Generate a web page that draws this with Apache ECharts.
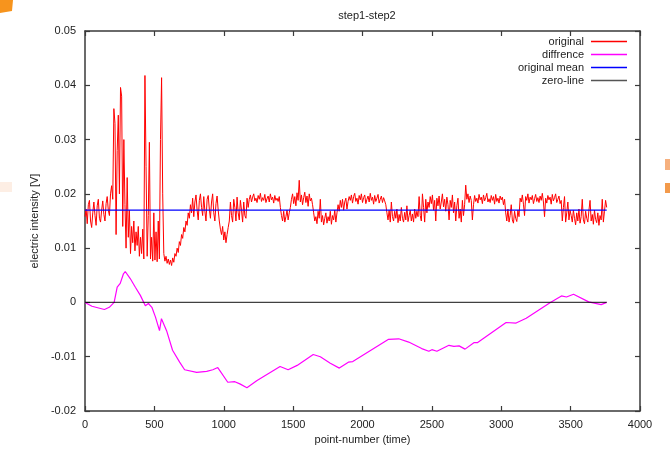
<!DOCTYPE html>
<html>
<head>
<meta charset="utf-8">
<script src="https://cdn.jsdelivr.net/npm/echarts@6/dist/echarts.min.js"></script>
<style>html,body{margin:0;padding:0;background:#fff;}#c{width:670px;height:451px;}</style>
</head>
<body>
<div id="c"></div>
<script>
// ---- data ----
const titleText = 'step1-step2';
const seriesNames = ['original', 'diffrence', 'original mean', 'zero-line'];
const xTicks = [0, 500, 1000, 1500, 2000, 2500, 3000, 3500, 4000];
const yTicks = [-0.02, -0.01, 0, 0.01, 0.02, 0.03, 0.04, 0.05];

// "original": one reading every 8 point-numbers
const origStep = 8;
const origValues = [
  0.0158,0.0172,0.0145,0.0180,0.0188,0.0150,0.0138,0.0165,0.0185,0.0160,0.0142,0.0178,0.0190,0.0155,0.0148,0.0170,0.0187,0.0162,0.0150,0.0182,0.0195,0.0170,0.0160,0.0200,0.0215,
  0.0190,0.0357,0.0330,0.0125,0.0280,0.0345,0.0200,0.0396,0.0380,0.0140,0.0300,0.0180,0.0100,0.0230,0.0120,0.0170,0.0090,0.0140,0.0110,0.0150,
  0.0095,0.0130,0.0105,0.0140,0.0085,0.0120,0.0090,0.0135,0.0080,0.0418,0.0250,0.0085,0.0160,0.0295,0.0080,0.0120,0.0076,0.0165,0.0078,0.0130,
  0.0075,0.0150,0.0080,0.0300,0.0414,0.0200,0.0090,0.0076,0.0085,0.0072,0.0080,0.0070,0.0078,
  0.0068,0.0082,0.0074,0.0090,0.0085,0.0100,0.0092,0.0112,0.0105,0.0125,0.0118,0.0138,0.0130,0.0150,0.0142,0.0165,0.0155,0.0180,
  0.0165,0.0192,0.0158,0.0185,0.0198,0.0170,0.0152,0.0188,0.0200,0.0175,0.0160,0.0195,0.0168,0.0150,0.0190,0.0197,0.0172,0.0155,0.0185,0.0200,0.0165,0.0150,0.0182,0.0196,0.0170,
  0.0150,0.0135,0.0125,0.0140,0.0115,0.0130,0.0110,0.0125,0.0138,0.0150,
  0.0185,0.0160,0.0148,0.0190,0.0175,0.0150,0.0194,0.0165,0.0152,0.0188,0.0170,0.0148,0.0185,0.0160,0.0155,0.0192,0.0175,
  0.0190,0.0198,0.0185,0.0194,0.0200,0.0187,0.0192,0.0184,0.0197,0.0190,0.0201,0.0186,0.0193,0.0188,0.0199,0.0184,0.0191,0.0196,0.0185,0.0200,0.0189,0.0194,0.0183,0.0197,0.0188,0.0192,0.0186,0.0195,
  0.0175,0.0160,0.0150,0.0168,0.0148,0.0158,0.0170,0.0152,0.0165,0.0175,
  0.0190,0.0200,0.0182,0.0195,0.0178,0.0202,0.0188,0.0225,0.0185,0.0198,0.0180,0.0193,0.0203,0.0184,0.0196,0.0177,0.0200,0.0187,0.0192,0.0180,
  0.0165,0.0150,0.0158,0.0145,0.0168,0.0155,0.0190,0.0148,0.0160,0.0143,0.0155,0.0165,0.0146,0.0158,0.0150,0.0168,0.0144,0.0160,0.0152,0.0170,0.0148,0.0165,
  0.0180,0.0168,0.0188,0.0175,0.0190,0.0170,0.0185,0.0192,0.0172,0.0186,0.0195,
  0.0188,0.0198,0.0183,0.0195,0.0201,0.0186,0.0192,0.0181,0.0197,0.0189,0.0200,0.0184,0.0193,0.0198,0.0182,0.0190,0.0196,0.0185,0.0201,0.0188,0.0194,0.0181,0.0197,0.0186,0.0192,0.0199,0.0183,0.0190,0.0196,0.0184,0.0193,0.0187,0.0180,
  0.0165,0.0152,0.0170,0.0148,0.0185,0.0158,0.0150,0.0168,0.0155,0.0172,0.0147,0.0162,0.0150,0.0175,0.0155,0.0148,0.0166,0.0152,0.0178,0.0149,0.0160,0.0170,0.0150,0.0163,0.0148,0.0172,0.0155,0.0168,0.0158,
  0.0195,0.0160,0.0150,0.0200,0.0175,0.0148,0.0190,0.0165,0.0185,
  0.0175,0.0195,0.0182,0.0198,0.0170,0.0188,0.0150,0.0192,0.0178,0.0196,0.0172,0.0185,0.0200,0.0176,0.0190,0.0168,0.0194,0.0180,0.0152,0.0188,0.0175,
  0.0198,0.0165,0.0185,0.0150,0.0178,0.0192,0.0155,0.0172,0.0148,0.0188,0.0160,0.0180,
  0.0216,
  0.0190,0.0200,0.0184,0.0196,0.0188,0.0152,0.0180,0.0197,0.0186,0.0192,0.0183,0.0199,0.0189,0.0194,0.0182,0.0198,0.0187,0.0193,0.0201,0.0185,0.0191,0.0184,0.0197,0.0188,0.0195,0.0181,0.0199,0.0186,0.0192,0.0183,0.0196,0.0189,0.0194,0.0180,0.0190,
  0.0165,0.0150,0.0172,0.0148,0.0160,0.0180,0.0152,0.0146,0.0168,0.0155,0.0149,0.0170,0.0158,
  0.0192,0.0185,0.0198,0.0181,0.0160,0.0195,0.0188,0.0200,0.0183,0.0194,0.0189,0.0197,0.0182,0.0191,0.0199,0.0186,0.0193,0.0184,0.0196,0.0188,0.0201,0.0185,0.0158,0.0192,0.0183,0.0197,0.0189,0.0194,0.0181,0.0199,0.0187,0.0193,0.0200,0.0184,0.0190,0.0196,0.0182,0.0188,
  0.0150,0.0175,0.0195,0.0148,0.0165,0.0185,0.0152,0.0170,
  0.0160,0.0148,0.0170,0.0155,0.0143,0.0165,0.0150,0.0172,0.0146,0.0158,0.0190,0.0152,0.0145,0.0168,0.0155,0.0148,0.0170,0.0188,0.0150,0.0162,0.0144,0.0170,0.0153,0.0147,0.0165,0.0142,0.0160,0.0152,0.0190,0.0148,0.0168,0.0188,0.0175
];

// "diffrence": readings (point-number, value)
const diffX = [0, 50, 140, 175, 210, 232, 254, 276, 290, 326, 363, 399, 435, 457, 482, 508, 537, 551, 588, 631,
  682, 718, 805, 877, 921, 957, 1029, 1080, 1116, 1167, 1240, 1406, 1464, 1529, 1645, 1696, 1768,
  1833, 1898, 1930, 2188, 2261, 2333, 2427, 2478, 2500, 2536, 2623, 2659, 2696, 2739, 2805, 2830,
  3035, 3107, 3180, 3354, 3434, 3470, 3521, 3630, 3720, 3760];
const diffY = [0, -0.0007, -0.0013, -0.0009, 0, 0.0028, 0.0035, 0.0052, 0.0057, 0.0044, 0.0028, 0.0013, -0.0006, -0.0002,
  -0.0009, -0.0027, -0.0052, -0.0030, -0.0052, -0.0088,
  -0.0110, -0.0124, -0.0129, -0.0127, -0.0124, -0.0120, -0.0147, -0.0146, -0.0150, -0.0157, -0.0144, -0.0118,
  -0.0124, -0.0116, -0.0096, -0.0100, -0.0112,
  -0.0121, -0.0110, -0.0109, -0.0068, -0.0067, -0.0073, -0.0085, -0.0090, -0.0087, -0.0090, -0.0079, -0.0081,
  -0.0080, -0.0086, -0.0074, -0.0074,
  -0.0037, -0.0038, -0.0029, 0, 0.0012, 0.0010, 0.0015, 0.0001, -0.0004, 0];

const meanValue = 0.017;
const zeroValue = 0;
const lineStart = 0;
const lineEnd = 3760;

// ---- build chart ----
const origData = origValues.map((v, i) => [i * origStep, v]);
const diffData = diffX.map((x, i) => [x, diffY[i]]);
const meanData = [[lineStart, meanValue], [lineEnd, meanValue]];
const zeroData = [[lineStart, zeroValue], [lineEnd, zeroValue]];

const FONT = 'Liberation Sans, Arial, sans-serif';
const axisCol = '#3a3a3a';

function fmtX(v) { return String(v); }
function fmtY(v) { return String(+v.toFixed(2)); }

const baseX = {
  type: 'value', min: xTicks[0], max: xTicks[xTicks.length - 1], interval: xTicks[1] - xTicks[0],
  splitLine: { show: false },
  axisLine: { show: true, onZero: false, lineStyle: { color: axisCol, width: 1.5 } },
  axisTick: { show: true, inside: true, length: 5, lineStyle: { color: axisCol, width: 1.2 } }
};
const baseY = {
  type: 'value', min: yTicks[0], max: yTicks[yTicks.length - 1], interval: 0.01,
  splitLine: { show: false },
  axisLine: { show: true, onZero: false, lineStyle: { color: axisCol, width: 1.5 } },
  axisTick: { show: true, inside: true, length: 5, lineStyle: { color: axisCol, width: 1.2 } }
};

const colors = ['#ff0000', '#ff00ff', '#0000ff', '#000000'];
const legendTops = [36, 49, 62, 75];

const chart = echarts.init(document.getElementById('c'), null, { renderer: 'canvas' });
chart.setOption({
  animation: false,
  backgroundColor: '#ffffff',
  textStyle: { fontFamily: FONT },
  title: {
    text: titleText, left: 362, top: 5, textAlign: 'center',
    textStyle: { fontSize: 11, fontWeight: 'normal', color: '#222', fontFamily: FONT }
  },
  legend: seriesNames.map((n, i) => ({
    data: [n], orient: 'vertical', right: 43, top: legendTops[i], align: 'right',
    icon: 'rect', itemWidth: 36, itemHeight: 1.3, itemGap: 0, padding: 0, selectedMode: false,
    textStyle: { fontSize: 11, color: '#222', fontFamily: FONT, padding: [0, 2, 0, 0] }
  })),
  grid: { left: 85, right: 30, top: 31, bottom: 40, containLabel: false },
  xAxis: [
    Object.assign({}, baseX, {
      position: 'bottom',
      name: 'point-number (time)', nameLocation: 'middle', nameGap: 23,
      nameTextStyle: { fontSize: 11, color: '#222', fontFamily: FONT },
      axisLabel: { show: true, margin: 8, fontSize: 11, color: '#222', fontFamily: FONT, formatter: fmtX }
    }),
    Object.assign({}, baseX, { position: 'top', axisLabel: { show: false } })
  ],
  yAxis: [
    Object.assign({}, baseY, {
      position: 'left',
      name: 'electric intensity [V]', nameLocation: 'middle', nameGap: 44, nameRotate: 90,
      nameTextStyle: { fontSize: 11, color: '#222', fontFamily: FONT },
      axisLabel: { show: true, margin: 9, fontSize: 11, color: '#222', fontFamily: FONT, formatter: fmtY }
    }),
    Object.assign({}, baseY, { position: 'right', axisLabel: { show: false } })
  ],
  series: [
    { name: seriesNames[0], type: 'line', data: origData, showSymbol: false, symbol: 'none',
      lineStyle: { color: colors[0], width: 1 }, itemStyle: { color: colors[0] } },
    { name: seriesNames[1], type: 'line', data: diffData, showSymbol: false, symbol: 'none',
      lineStyle: { color: colors[1], width: 1.2 }, itemStyle: { color: colors[1] } },
    { name: seriesNames[2], type: 'line', data: meanData, showSymbol: false, symbol: 'none',
      lineStyle: { color: colors[2], width: 1.2 }, itemStyle: { color: colors[2] } },
    { name: seriesNames[3], type: 'line', data: zeroData, showSymbol: false, symbol: 'none',
      lineStyle: { color: colors[3], width: 1.2, opacity: 0.75 }, itemStyle: { color: '#555' } }
  ],
  graphic: [
    { type: 'polygon', shape: { points: [[0, 0], [13, 0], [12, 11], [0, 13]] }, style: { fill: '#f7941d' }, silent: true },
    { type: 'rect', shape: { x: 0, y: 182, width: 12, height: 10 }, style: { fill: '#fdeee4' }, silent: true },
    { type: 'rect', shape: { x: 665, y: 159, width: 5, height: 11 }, style: { fill: '#f6b07e' }, silent: true },
    { type: 'rect', shape: { x: 665, y: 183, width: 5, height: 10 }, style: { fill: '#f39a4b' }, silent: true }
  ]
});
</script>
</body>
</html>
